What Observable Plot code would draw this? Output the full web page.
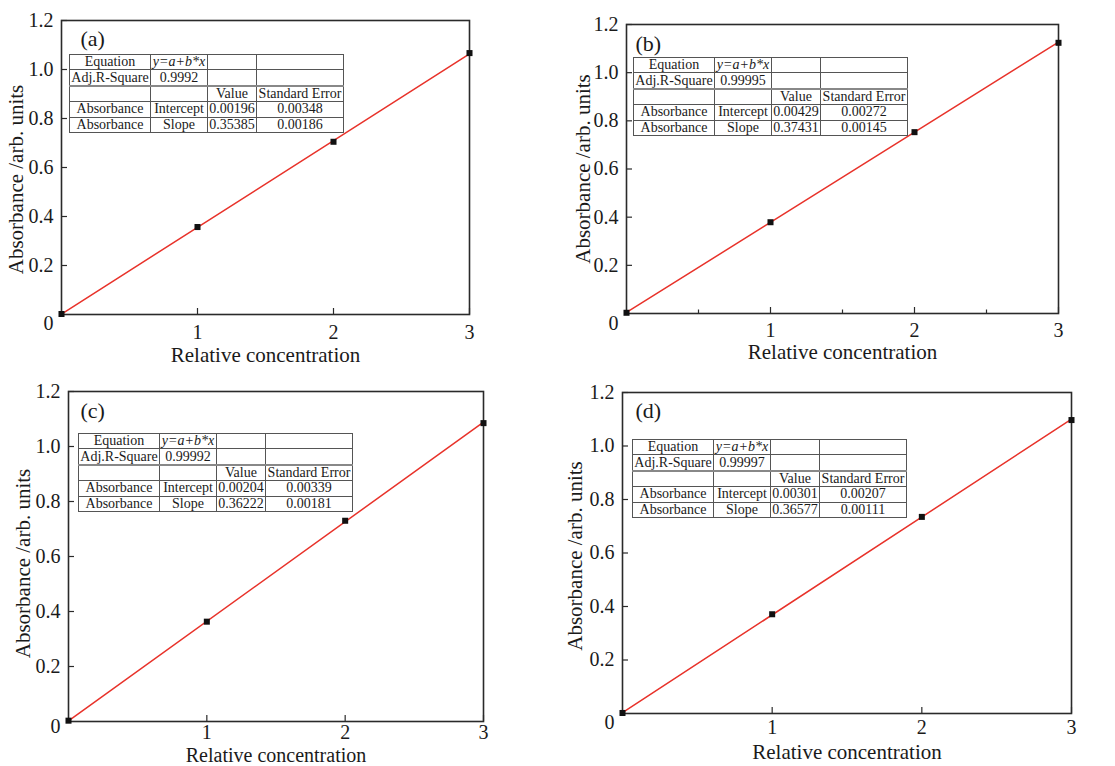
<!DOCTYPE html>
<html>
<head>
<meta charset="utf-8">
<script src="https://cdn.jsdelivr.net/npm/d3@7"></script>
<script src="https://cdn.jsdelivr.net/npm/@observablehq/plot@0.6"></script>
<style>
  body { margin: 0; background: #fff; }
  #root { position: relative; width: 1115px; height: 766px; overflow: hidden; font-family: "Liberation Serif", serif; color: #1a1a1a; }
  .panel { position: absolute; }
  .panel svg { display: block; }
  table.fit { position: absolute; border-collapse: collapse; font-family: "Liberation Serif", serif; font-size: 14px; color: #1a1a1a; background: #fff; table-layout: fixed; }
  table.fit td { border: 1px solid #555; padding: 0; height: 14.4px; line-height: 14px; text-align: center; white-space: nowrap; overflow: visible; }
  table.fit tr.sep td { border-top: 2px solid #888; }
  table.fit td.it { font-style: italic; }
</style>
</head>
<body>
<div id="root"></div>
<script>
// ---- data ----
const panelLabels = ["(a)", "(b)", "(c)", "(d)"];
const concentration = [0, 1, 2, 3];
const absorbanceA = [0.002, 0.357, 0.705, 1.067];
const absorbanceB = [0.003, 0.379, 0.753, 1.124];
const absorbanceC = [0.003, 0.363, 0.730, 1.085];
const absorbanceD = [0.002, 0.371, 0.735, 1.097];
const equationText = "y=a+b*x";
const adjR2 = ["0.9992", "0.99995", "0.99992", "0.99997"];
const interceptValue = ["0.00196", "0.00429", "0.00204", "0.00301"];
const interceptError = ["0.00348", "0.00272", "0.00339", "0.00207"];
const slopeValue = ["0.35385", "0.37431", "0.36222", "0.36577"];
const slopeError = ["0.00186", "0.00145", "0.00181", "0.00111"];
const yTicks = [0.2, 0.4, 0.6, 0.8, 1.0, 1.2];
const xTicks = [1, 2, 3];
const xMinorTicksB = [0.5, 1.5, 2.5];
const xTitle = "Relative concentration";
const yTitle = "Absorbance /arb. units";

const absorbance = [absorbanceA, absorbanceB, absorbanceC, absorbanceD];

// ---- layout ----
const layout = [
  {left: 0,   top: 0,   w: 557, h: 375, mL: 61, mT: 20, mR: 88, mB: 61, zeroDy: 9,  xPad: 10, xDy: 41, xFs: 21, yDx: -45, yDy: 12, lDx: 19, lDy: 18, tL: 69, tT: 54, minor: false},
  {left: 557, top: 0,   w: 558, h: 375, mL: 69, mT: 24, mR: 57, mB: 62, zeroDy: 10, xPad: 9,  xDy: 39, xFs: 21, yDx: -43, yDy: 0,  lDx: 9,  lDy: 19, tL: 76, tT: 57, minor: true},
  {left: 0,   top: 375, w: 557, h: 391, mL: 68, mT: 16, mR: 74, mB: 45, zeroDy: 5,  xPad: 3,  xDy: 34.5, xFs: 20, yDx: -45, yDy: 7,  lDx: 12, lDy: 19, tL: 78, tT: 58, minor: false},
  {left: 557, top: 375, w: 558, h: 391, mL: 65, mT: 17, mR: 44, mB: 53, zeroDy: 9,  xPad: 6,  xDy: 39, xFs: 21, yDx: -47, yDy: 3,  lDx: 13, lDy: 18, tL: 75, tT: 64, minor: false}
];

const root = document.getElementById("root");
const axisColor = "#2a2a2a";
const textColor = "#1a1a1a";

layout.forEach((L, i) => {
  const fw = L.w - L.mL - L.mR;
  const fh = L.h - L.mT - L.mB;
  const pts = concentration.map((c, j) => ({c, a: absorbance[i][j]}));
  const b0 = +interceptValue[i], b1 = +slopeValue[i];
  const fit = d3.extent(concentration).map(c => ({c, a: b0 + b1 * c}));

  const marks = [
    Plot.frame({stroke: axisColor, strokeWidth: 1.6}),
    Plot.tickY(yTicks, {y: d => d, insetRight: fw - 6, stroke: axisColor, strokeWidth: 1.2}),
    Plot.tickX(xTicks, {x: d => d, insetTop: fh - 6, stroke: axisColor, strokeWidth: 1.2}),
  ];
  if (L.minor) marks.push(Plot.tickX(xMinorTicksB, {x: d => d, insetTop: fh - 3.5, stroke: axisColor, strokeWidth: 1.2}));
  marks.push(
    Plot.axisY(yTicks, {tickSize: 0, tickPadding: 8, tickFormat: d => d.toFixed(1), fontSize: 20, label: null}),
    Plot.axisY([0], {tickSize: 0, tickPadding: 8, tickFormat: d => String(d), fontSize: 20, dy: L.zeroDy, label: null}),
    Plot.axisX(xTicks, {tickSize: 0, tickPadding: L.xPad, tickFormat: d => String(d), fontSize: 20, label: null}),
    Plot.line(fit, {x: "c", y: "a", stroke: "#e8322a", strokeWidth: 1.5}),
    Plot.dot(pts, {x: "c", y: "a", symbol: "square", r: 3.4, fill: "#111", stroke: "none"}),
    Plot.text([yTitle], {frameAnchor: "left", textAnchor: "middle", lineAnchor: "middle", dx: L.yDx, dy: L.yDy, rotate: -90, fontSize: 21, fill: textColor}),
    Plot.text([xTitle], {frameAnchor: "bottom", textAnchor: "middle", lineAnchor: "middle", dy: L.xDy, fontSize: L.xFs, fill: textColor}),
    Plot.text([panelLabels[i]], {frameAnchor: "top-left", textAnchor: "start", lineAnchor: "middle", dx: L.lDx, dy: L.lDy, fontSize: 22, fill: textColor})
  );

  const svg = Plot.plot({
    width: L.w, height: L.h,
    marginLeft: L.mL, marginTop: L.mT, marginRight: L.mR, marginBottom: L.mB,
    x: {domain: [0, 3], label: null},
    y: {domain: [0, 1.2], label: null},
    style: {fontFamily: "Liberation Serif, serif", color: textColor, background: "transparent", overflow: "visible"},
    marks
  });

  const div = document.createElement("div");
  div.className = "panel";
  div.style.left = L.left + "px";
  div.style.top = L.top + "px";
  div.style.width = L.w + "px";
  div.style.height = L.h + "px";
  div.appendChild(svg);

  const rows = [
    [["Equation", ""], [equationText, "it"], ["", ""], ["", ""]],
    [["Adj.R-Square", ""], [adjR2[i], ""], ["", ""], ["", ""]],
    [["", ""], ["", ""], ["Value", ""], ["Standard Error", ""]],
    [["Absorbance", ""], ["Intercept", ""], [interceptValue[i], ""], [interceptError[i], ""]],
    [["Absorbance", ""], ["Slope", ""], [slopeValue[i], ""], [slopeError[i], ""]]
  ];
  const widths = [81, 57, 49, 87];
  const table = document.createElement("table");
  table.className = "fit";
  table.style.left = L.tL + "px";
  table.style.top = L.tT + "px";
  const cg = document.createElement("colgroup");
  widths.forEach(w => { const c = document.createElement("col"); c.style.width = w + "px"; cg.appendChild(c); });
  table.appendChild(cg);
  rows.forEach((r, ri) => {
    const tr = document.createElement("tr");
    if (ri === 2) tr.className = "sep";
    r.forEach(([t, cls]) => {
      const td = document.createElement("td");
      td.textContent = t;
      if (cls) td.className = cls;
      tr.appendChild(td);
    });
    table.appendChild(tr);
  });
  div.appendChild(table);
  root.appendChild(div);
});
</script>
</body>
</html>
